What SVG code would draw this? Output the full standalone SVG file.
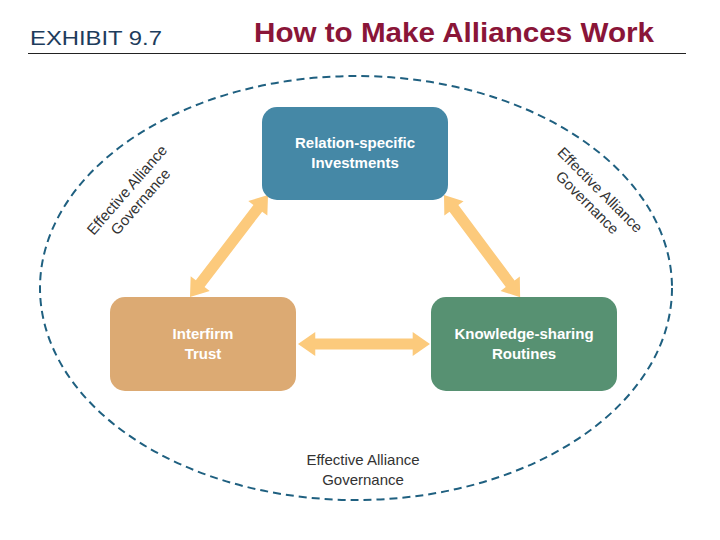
<svg xmlns="http://www.w3.org/2000/svg" xmlns:xlink="http://www.w3.org/1999/xlink" width="720" height="540" viewBox="0 0 720 540">
<style>
.box{stroke:none}
.bt{font-family:"Liberation Sans Narrow","Liberation Sans",Arial,sans-serif;font-weight:bold;font-size:15px;fill:#fff;text-anchor:middle}
.gov{font-family:"Liberation Sans Narrow","Liberation Sans",Arial,sans-serif;font-size:15px;fill:#333;text-anchor:middle}
.arr{fill:#fcca7c}
</style>
<defs>
<path id="dbl" d="M0,0 L17,-12 L17,-5.5 L113,-5.5 L113,-12 L130,0 L113,12 L113,5.5 L17,5.5 L17,12 Z"/>
</defs>
<rect width="720" height="540" fill="#fff"/>
<g id="header">
<text x="30" y="45" font-family="Liberation Sans,Arial,sans-serif" font-size="21" fill="#1d3c5c" textLength="132" lengthAdjust="spacingAndGlyphs">EXHIBIT 9.7</text>
<text x="254" y="42" font-family="Liberation Sans,Arial,sans-serif" font-size="28" font-weight="bold" fill="#8a1538" textLength="400" lengthAdjust="spacingAndGlyphs">How to Make Alliances Work</text>
<line x1="28" y1="53.5" x2="686" y2="53.5" stroke="#222" stroke-width="1.2"/>
</g>
<g id="governance">
<ellipse cx="356" cy="288" rx="316" ry="212" fill="none" stroke="#1f6080" stroke-width="2" stroke-dasharray="8 5"/>
<g transform="translate(127,190) rotate(-49)"><text class="gov" x="0" y="5">Effective Alliance</text><text class="gov" x="0" y="23">Governance</text></g>
<g transform="translate(600,190) rotate(45)"><text class="gov" x="0" y="5">Effective Alliance</text><text class="gov" x="0" y="23">Governance</text></g>
<text class="gov" x="363" y="465">Effective Alliance</text>
<text class="gov" x="363" y="485">Governance</text>
</g>
<g id="connectors" class="arr">
<use xlink:href="#dbl" transform="translate(298,344) scale(1.015,1)"/>
<use xlink:href="#dbl" transform="translate(190,297) rotate(-52.6) scale(0.988,1)"/>
<use xlink:href="#dbl" transform="translate(444,195) rotate(53.3) scale(0.98,1)"/>
</g>
<g id="relation-specific-investments">
<rect class="box" x="262" y="107" width="186" height="93" rx="15" fill="#4588a6"/>
<text class="bt" x="355" y="148">Relation-specific</text>
<text class="bt" x="355" y="168">Investments</text>
</g>
<g id="interfirm-trust">
<rect class="box" x="110" y="297" width="186" height="94" rx="15" fill="#dcaa73"/>
<text class="bt" x="203" y="339">Interfirm</text>
<text class="bt" x="203" y="359">Trust</text>
</g>
<g id="knowledge-sharing-routines">
<rect class="box" x="431" y="297" width="186" height="94" rx="15" fill="#579172"/>
<text class="bt" x="524" y="339">Knowledge-sharing</text>
<text class="bt" x="524" y="359">Routines</text>
</g>
</svg>
